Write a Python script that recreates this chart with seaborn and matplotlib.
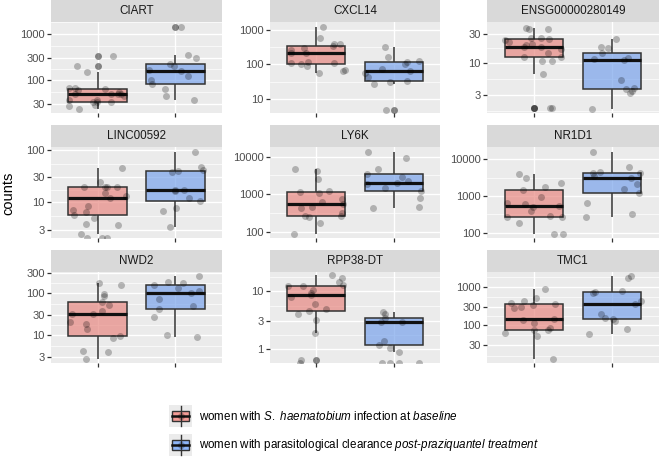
import numpy as np
import pandas as pd
import matplotlib.pyplot as plt
import matplotlib.colors as mcolors
from matplotlib.patches import Rectangle
from matplotlib.ticker import NullFormatter
import seaborn as sns

# counts per woman (0 = zero count, drawn at panel floor)
genes = ['CIART', 'CXCL14', 'ENSG00000280149', 'LINC00592', 'LY6K', 'NR1D1',
         'NWD2', 'RPP38-DT', 'TMC1']

ciart_pre = [23, 27, 28, 32, 33, 33, 37, 37, 44, 48, 48, 48, 50, 54, 60, 62, 65, 67, 147, 198, 327]
ciart_post = [36, 44, 64, 83, 97, 124, 154, 162, 198, 223, 301, 356, 1420]
cxcl14_pre = [55, 65, 68, 89, 102, 107, 112, 120, 209, 219, 263, 300, 350, 380, 392, 571, 1196]
cxcl14_post = [4.7, 27, 31, 33, 44, 57, 65, 71, 100, 117, 128, 160, 327]
ensg_pre = [1.8, 1.8, 6.6, 10.9, 10.9, 12.4, 12.7, 14.4, 17, 18.1, 18.5, 19.7, 20.3, 22.5,
            23.9, 24.8, 25.4, 26, 35.8, 36.4, 38]
ensg_post = [1.72, 3.15, 3.5, 3.67, 3.8, 5.2, 11.2, 11.5, 11.9, 14.8, 17.9, 18.5, 24.5]
linc_pre = [0, 0, 0, 2.45, 3.7, 3.85, 4.9, 5.7, 6.6, 7.1, 8.3, 11.9, 13.2, 15, 19.5, 19.9,
            20, 20, 24.8, 45]
linc_post = [3.4, 6.9, 7.7, 10.6, 11.9, 16.5, 17.2, 17.5, 38.5, 40.3, 41.5, 46.7, 93]
ly6k_pre = [85, 174, 251, 262, 267, 321, 419, 446, 547, 631, 743, 1050, 1166, 1240, 2490, 4235, 4600]
ly6k_post = [419, 464, 807, 1240, 1490, 1866, 2027, 2290, 2930, 3380, 4590, 9400, 13600]
nr1d1_pre = [92, 92, 188, 262, 262, 285, 390, 490, 534, 605, 630, 935, 1460, 1720, 2210, 3030, 3890]
nr1d1_post = [262, 323, 658, 1230, 1520, 2120, 3030, 3510, 4330, 4330, 4610, 6050, 16200]
nwd2_pre = [2.65, 4.06, 4.2, 8.5, 9.6, 13.9, 18.4, 20, 30.8, 32, 38, 52, 60.8, 83, 96, 153, 174]
nwd2_post = [9.1, 10.2, 26.5, 40.6, 48.8, 73, 100, 110, 134, 158, 174, 180, 251]
rpp38_pre = [0, 0.65, 1.87, 3.1, 4.04, 4.5, 4.94, 6.0, 7.9, 8.4, 9, 10.5, 12, 12.1, 12.5,
             14.3, 16.4, 18.7]
rpp38_post = [0, 0, 0, 0, 0.875, 1.04, 1.17, 1.34, 2.9, 2.95, 3.45, 4.04, 4.33]
tmc1_pre = [13.2, 52, 63, 74, 77, 85, 115, 135, 149, 283, 301, 330, 367, 383, 431, 516, 852]
tmc1_post = [61, 79, 127, 144, 158, 201, 353, 423, 697, 711, 787, 1650, 1900]

y_breaks = [[30, 100, 300, 1000], [10, 100, 1000], [3, 10, 30], [3, 10, 30, 100],
            [100, 1000, 10000], [100, 1000, 10000], [3, 10, 30, 100, 300], [1, 3, 10],
            [30, 100, 300, 1000]]
y_limits = [(18.8, 1850), (3.83, 1711), (1.5, 47.3), (2.07, 114), (68, 18150),
            (72, 21600), (2.17, 313), (0.568, 21.1), (10.5, 2420)]

groups = ['baseline', 'post']
pink = '#F8766D'
blue = '#619CFF'
legend_labels = [r'women with $\mathit{S.\ haematobium}$ infection at $\mathit{baseline}$',
                 r'women with parasitological clearance $\mathit{post}$-$\mathit{praziquantel\ treatment}$']

panels = [(ciart_pre, ciart_post), (cxcl14_pre, cxcl14_post), (ensg_pre, ensg_post),
          (linc_pre, linc_post), (ly6k_pre, ly6k_post), (nr1d1_pre, nr1d1_post),
          (nwd2_pre, nwd2_post), (rpp38_pre, rpp38_post), (tmc1_pre, tmc1_post)]

plt.rcParams['font.family'] = 'Liberation Sans'
plt.rcParams['mathtext.fontset'] = 'custom'
plt.rcParams['mathtext.rm'] = 'Liberation Sans'
plt.rcParams['mathtext.it'] = 'Liberation Sans:italic'
plt.rcParams['mathtext.bf'] = 'Liberation Sans:bold'

W, H = 660, 461
fig = plt.figure(figsize=(W / 100, H / 100), dpi=100)
col_x = [51, 270, 487]
col_w = [171, 170, 172]
row_top = [22, 147, 272]
row_h = 91
strip_h = 22
fill_alpha = 0.68

np.random.seed(11)
for i, gene in enumerate(genes):
    r, c = divmod(i, 3)
    ax = fig.add_axes([col_x[c] / W, 1 - (row_top[r] + row_h) / H, col_w[c] / W, row_h / H])
    ax.set_facecolor('#EBEBEB')
    pre, post = panels[i]
    lo, hi = y_limits[i]
    df = pd.DataFrame({'group': ['baseline'] * len(pre) + ['post'] * len(post),
                       'counts': pre + post})

    # zeros are -Inf on log scale: left out of the box stats, drawn on the floor
    sns.boxplot(data=df[df.counts > 0], x='group', y='counts', hue='group',
                order=groups, hue_order=groups, palette=[pink, blue], width=0.75,
                log_scale=True, showcaps=False, linecolor='#333333', linewidth=1.1,
                medianprops=dict(color='#111111', linewidth=2.3),
                flierprops=dict(marker='o', markersize=5, markerfacecolor='black',
                                markeredgecolor='none', alpha=0.45),
                legend=False, ax=ax)
    for p in ax.patches:
        p.set_facecolor(mcolors.to_rgba(p.get_facecolor(), fill_alpha))

    strip = df.assign(counts=df.counts.where(df.counts > 0, lo))
    sns.stripplot(data=strip, x='group', y='counts', order=groups, color='black',
                  alpha=0.25, size=5, jitter=0.38, linewidth=0, log_scale=True,
                  ax=ax, zorder=3)

    ax.set_xlim(-0.6, 1.6)
    br = y_breaks[i]
    ax.set_yticks(br, labels=[f'{b:g}' for b in br])
    lb = np.log10(br)
    step = lb[1] - lb[0]
    ext = np.concatenate([[lb[0] - step], lb, [lb[-1] + step]])
    ax.set_yticks(10 ** ((ext[:-1] + ext[1:]) / 2), minor=True)
    ax.yaxis.set_minor_formatter(NullFormatter())
    ax.set_ylim(lo, hi)
    ax.set_xticks([0, 1], labels=['', ''])
    ax.tick_params(which='major', length=3, width=0.9, color='#333333',
                   labelcolor='#4D4D4D', labelsize=8, pad=1.5)
    ax.tick_params(which='minor', length=0)
    ax.grid(which='major', color='white', linewidth=1.0)
    ax.grid(which='minor', axis='y', color='white', linewidth=0.5)
    ax.set_axisbelow(True)
    for s in ax.spines.values():
        s.set_visible(False)
    ax.set_xlabel('')
    ax.set_ylabel('')

    ax.add_patch(Rectangle((0, 1), 1, strip_h / row_h, transform=ax.transAxes,
                           clip_on=False, facecolor='#D9D9D9', edgecolor='none'))
    ax.text(0.5, 1 + strip_h / row_h / 2, gene, transform=ax.transAxes,
            ha='center', va='center', fontsize=8.4, color='#1A1A1A')

fig.text(8 / W, 1 - 193 / H, 'counts', rotation=90, ha='center', va='center',
         fontsize=10.5, color='black')

# legend drawn in pixel space
leg = fig.add_axes([0, 0, 1, 1])
leg.set_xlim(0, W)
leg.set_ylim(H, 0)
leg.axis('off')
for yc, col, lab in zip([416.3, 444.5], [pink, blue], legend_labels):
    leg.add_patch(Rectangle((169, yc - 11), 23, 22, facecolor='#EBEBEB', edgecolor='none'))
    leg.plot([180.5, 180.5], [yc - 10, yc + 10], color='#333333', lw=1)
    leg.add_patch(Rectangle((172, yc - 5), 17, 10, facecolor=mcolors.to_rgba(col, fill_alpha),
                            edgecolor='#333333', lw=1))
    leg.plot([172, 189], [yc, yc], color='#111111', lw=1.8)
    leg.plot([180.5], [yc], 'o', color='black', alpha=0.25, ms=5, mec='none')
    leg.text(199, yc, lab, ha='left', va='center', fontsize=8.4)

fig.savefig('out.png', dpi=100)
